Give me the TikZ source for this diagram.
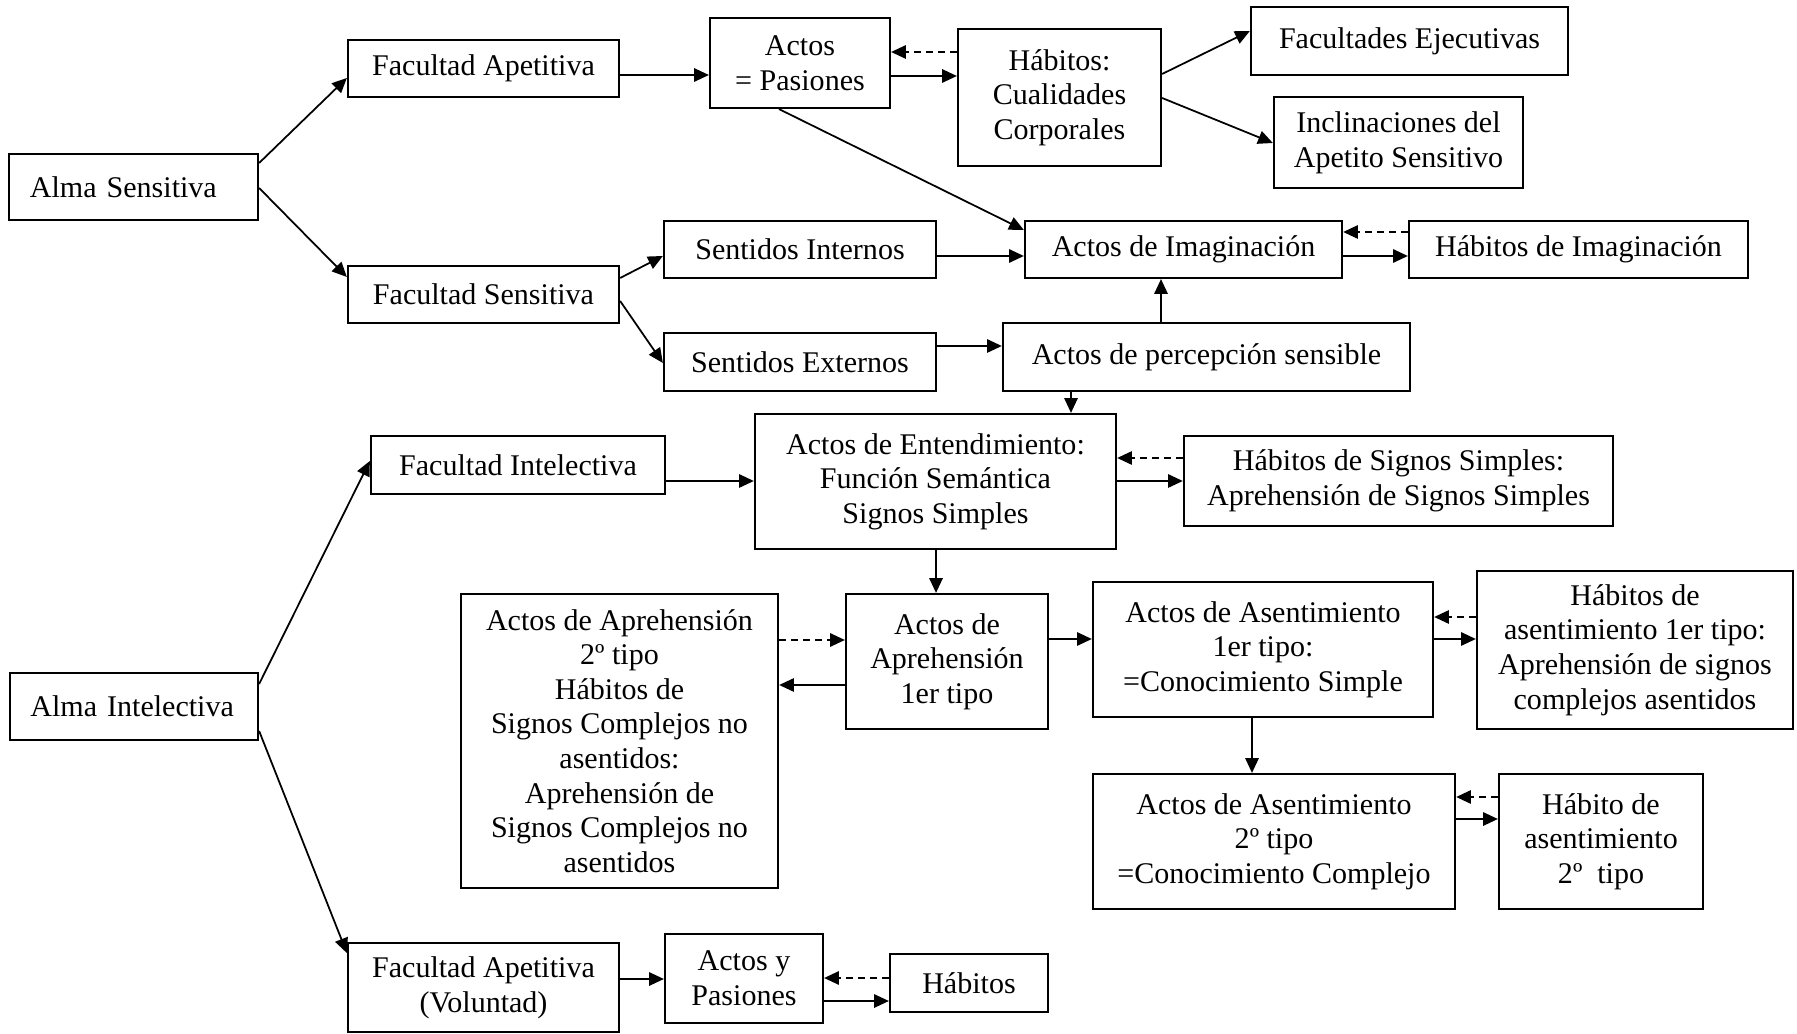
\documentclass[tikz,border=0pt]{standalone}
\usepackage{fontspec}
\setmainfont{Liberation Serif}
\usetikzlibrary{arrows.meta}
\newcommand{\bx}[7][]{\node[box,#1,minimum width={(#5-#3)*0.284528pt},minimum height={(#6-#4)*0.284528pt}] (#2) at ({(#3+#5)/2},{(#4+#6)/2}) {#7};}
\begin{document}
\begin{tikzpicture}[x=0.01cm,y=-0.01cm,
  box/.style={draw, line width=0.6pt, align=center, inner sep=0pt, font=\fontsize{8.54pt}{9.85pt}\selectfont},
  arr/.style={-{Triangle[length=4.2pt,width=3.8pt]}, line width=0.5pt},
  darr/.style={arr, dash pattern=on 2pt off 1.4pt}]
\fill[white] (0,0) rectangle (1797,1034);
\useasboundingbox (0,0) rectangle (1797,1034);
% boxes
\bx[align=left,text width=2.07cm]{almaS}{9}{154}{258}{220}{Alma Sensitiva}
\bx{facA}{348}{40}{619}{97}{Facultad Apetitiva}
\bx{actP}{710}{18}{890}{108}{Actos\\= Pasiones}
\bx{habC}{958}{29}{1161}{166}{Hábitos:\\Cualidades\\Corporales}
\bx{facE}{1251}{7}{1568}{75}{Facultades Ejecutivas}
\bx{incl}{1274}{97}{1523}{188}{Inclinaciones del\\Apetito Sensitivo}
\bx{facS}{348}{266}{619}{323}{Facultad Sensitiva}
\bx{senI}{664}{221}{936}{278}{Sentidos Internos}
\bx{actI}{1025}{221}{1342}{278}{Actos de Imaginación}
\bx{habI}{1409}{221}{1748}{278}{Hábitos de Imaginación}
\bx{senE}{664}{333}{936}{391}{Sentidos Externos}
\bx{actPS}{1003}{323}{1410}{391}{Actos de percepción sensible}
\bx{actE}{755}{414}{1116}{549}{Actos de Entendimiento:\\Función Semántica\\Signos Simples}
\bx{facI}{371}{436}{665}{494}{Facultad Intelectiva}
\bx{habSS}{1184}{436}{1613}{526}{Hábitos de Signos Simples:\\Aprehensión de Signos Simples}
\bx[align=left,text width=2.07cm]{almaI}{10}{673}{258}{740}{Alma Intelectiva}
\bx{apr2}{461}{594}{778}{888}{Actos de Aprehensión\\2º tipo\\Hábitos de\\Signos Complejos no\\asentidos:\\Aprehensión de\\Signos Complejos no\\asentidos}
\bx{apr1}{846}{594}{1048}{729}{Actos de\\Aprehensión\\1er tipo}
\bx{ase1}{1093}{582}{1433}{717}{Actos de Asentimiento\\1er tipo:\\=Conocimiento Simple}
\bx{habA1}{1477}{571}{1793}{729}{Hábitos de\\asentimiento 1er tipo:\\Aprehensión de signos\\complejos asentidos}
\bx{ase2}{1093}{774}{1455}{909}{Actos de Asentimiento\\2º tipo\\=Conocimiento Complejo}
\bx{habA2}{1499}{774}{1703}{909}{Hábito de\\asentimiento\\2º\ \ tipo}
\bx{facV}{348}{943}{619}{1032}{Facultad Apetitiva\\(Voluntad)}
\bx{actyP}{665}{934}{823}{1023}{Actos y\\Pasiones}
\bx{habV}{890}{954}{1048}{1012}{Hábitos}
% connectors
\draw[arr] (almaS.east |- 0,163) -- (facA.west |- 0,78);
\draw[arr] (almaS.east |- 0,188) -- (facS.west |- 0,277);
\draw[arr] (facA.east |- 0,75) -- (actP.west |- 0,75);
\draw[arr] (actP.east |- 0,76) -- (habC.west |- 0,76);
\draw[darr] (habC.west |- 0,52) -- (actP.east |- 0,52);
\draw[arr] (habC.east |- 0,74) -- (facE.west |- 0,31);
\draw[arr] (habC.east |- 0,98) -- (incl.west |- 0,143);
\draw[arr] (actP.south -| 779,0) -- (actI.west |- 0,230);
\draw[arr] (facS.east |- 0,278) -- (senI.west |- 0,256);
\draw[arr] (facS.east |- 0,301) -- (senE.west |- 0,363);
\draw[arr] (senI.east |- 0,256) -- (actI.west |- 0,256);
\draw[arr] (actI.east |- 0,256) -- (habI.west |- 0,256);
\draw[darr] (habI.west |- 0,232) -- (actI.east |- 0,232);
\draw[arr] (senE.east |- 0,346) -- (actPS.west |- 0,346);
\draw[arr] (actPS.north -| 1161,0) -- (actI.south -| 1161,0);
\draw[arr] (actPS.south -| 1071,0) -- (actE.north -| 1071,0);
\draw[arr] (almaI.east |- 0,684) -- (facI.west |- 0,461);
\draw[arr] (almaI.east |- 0,731) -- (facV.west |- 0,953);
\draw[arr] (facI.east |- 0,481) -- (actE.west |- 0,481);
\draw[arr] (actE.east |- 0,481) -- (habSS.west |- 0,481);
\draw[darr] (habSS.west |- 0,458) -- (actE.east |- 0,458);
\draw[arr] (actE.south -| 936,0) -- (apr1.north -| 936,0);
\draw[darr] (apr2.east |- 0,640) -- (apr1.west |- 0,640);
\draw[arr] (apr1.west |- 0,685) -- (apr2.east |- 0,685);
\draw[arr] (apr1.east |- 0,639) -- (ase1.west |- 0,639);
\draw[arr] (ase1.east |- 0,639) -- (habA1.west |- 0,639);
\draw[darr] (habA1.west |- 0,617) -- (ase1.east |- 0,617);
\draw[arr] (ase1.south -| 1252,0) -- (ase2.north -| 1252,0);
\draw[arr] (ase2.east |- 0,819) -- (habA2.west |- 0,819);
\draw[darr] (habA2.west |- 0,797) -- (ase2.east |- 0,797);
\draw[arr] (facV.east |- 0,979) -- (actyP.west |- 0,979);
\draw[arr] (actyP.east |- 0,1001) -- (habV.west |- 0,1001);
\draw[darr] (habV.west |- 0,978) -- (actyP.east |- 0,978);
\end{tikzpicture}
\end{document}
